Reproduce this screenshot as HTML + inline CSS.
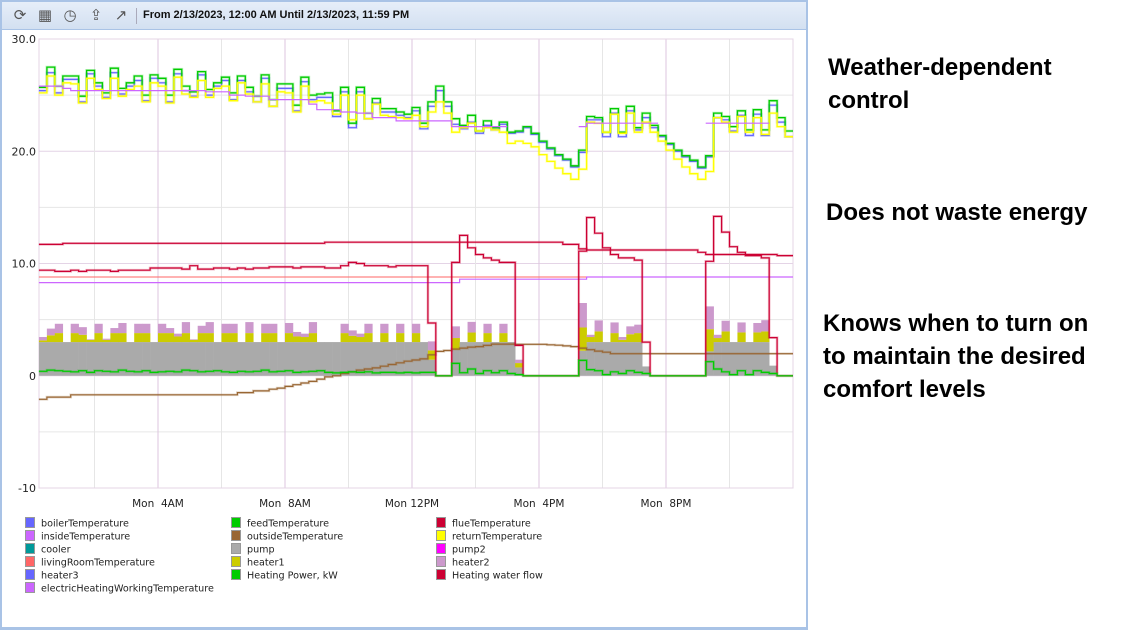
<!DOCTYPE html>
<html><head><meta charset="utf-8">
<style>
html,body{margin:0;padding:0;background:#fff;width:1126px;height:630px;overflow:hidden;font-family:"DejaVu Sans","Liberation Sans",sans-serif;}
#panel{position:absolute;left:0;top:0;width:804px;height:625px;border:2px solid #a9c3e6;border-bottom-width:3px;background:#fff;}
#toolbar{position:absolute;left:0;top:0;width:804px;height:27px;background:linear-gradient(#e6eef9,#d3e0f1);border-bottom:1px solid #a9c3e6;}
.tb{position:absolute;top:4px;width:18px;height:18px;color:#555;font-size:15px;line-height:18px;text-align:center;}
#range{position:absolute;left:141px;top:7px;font:bold 11px "Liberation Sans",sans-serif;color:#111;}
#sep{position:absolute;left:134px;top:6px;width:1px;height:16px;background:#aab;}
.note{position:absolute;font:bold 24px "Liberation Sans",sans-serif;color:#000;line-height:33px;}
</style></head><body>
<div id="panel">
 <div id="toolbar">
  <div class="tb" style="left:9px">⟳</div>
  <div class="tb" style="left:34px">▦</div>
  <div class="tb" style="left:59px">◷</div>
  <div class="tb" style="left:85px">⇪</div>
  <div class="tb" style="left:110px">↗</div>
  <div id="sep"></div>
  <div id="range">From 2/13/2023, 12:00 AM Until 2/13/2023, 11:59 PM</div>
 </div>
 <svg id="chart" width="806" height="600" style="position:absolute;left:-2px;top:-2px"></svg>
</div>
<div class="note" style="left:828px;top:51px">Weather-dependent<br>control</div>
<div class="note" style="left:826px;top:196px">Does not waste energy</div>
<div class="note" style="left:823px;top:307px">Knows when to turn on<br>to maintain the desired<br>comfort levels</div>
<script>
const tickHours=[4,8,12,16,20];
const tickLabels=["Mon  4AM","Mon  8AM","Mon 12PM","Mon  4PM","Mon  8PM"];
const yTicks=[30,20,10,0,-10];
const yTickLabels=["30.0","20.0","10.0","0","-10"];
const stepHours=0.25;
const startHour=0.25;
const feed=[25.7,27.5,25.8,26.7,26.7,24.9,27.2,26.1,25.2,27.4,
25.6,26.1,26.7,25.0,26.8,26.5,25.0,27.3,25.8,25.3,
27.1,25.5,26.1,26.6,25.2,26.7,25.7,24.9,26.8,24.6,
26.0,26.0,24.1,26.6,25.0,25.1,25.2,23.6,25.7,22.5,
25.7,23.4,24.7,23.8,23.8,23.5,23.3,23.9,22.5,24.4,
25.8,24.4,22.9,22.3,23.2,21.8,22.7,22.1,22.6,21.7,
21.8,22.2,21.6,20.9,20.3,19.7,19.3,18.7,20.1,23.1,
23.0,21.7,23.8,21.7,24.0,22.1,23.4,22.3,21.4,20.7,
20.1,19.6,19.2,18.6,19.6,23.4,23.1,22.2,23.6,21.9,
23.7,21.9,24.5,23.0,21.8];
const boiler=[25.4,27.0,25.2,26.4,26.4,24.4,26.9,25.8,24.8,27.0,
25.1,25.8,26.3,24.5,26.5,26.1,24.4,26.9,25.4,24.9,
26.8,25.0,25.8,26.3,24.6,26.3,25.3,24.4,26.5,24.0,
25.6,25.6,23.6,26.2,24.6,24.8,24.8,23.1,25.3,22.1,
25.3,22.9,24.3,23.5,23.5,23.2,23.0,23.6,22.0,24.0,
25.4,24.0,22.4,22.0,22.6,21.6,22.3,21.9,22.4,21.6,
21.7,22.1,21.5,20.8,20.2,19.6,19.2,18.6,19.9,22.8,
22.8,21.3,23.4,21.3,23.6,21.9,23.0,22.1,21.3,20.6,
20.0,19.5,19.1,18.5,19.5,23.0,22.8,21.8,23.2,21.4,
23.3,21.4,24.1,22.6,21.3];
const ret=[25.2,26.7,25.0,26.1,26.0,24.3,26.5,25.5,24.7,26.5,
24.9,25.5,25.8,24.4,26.1,25.8,24.3,26.6,25.1,24.8,
26.3,24.8,25.6,25.8,24.5,26.1,25.1,24.4,26.0,24.0,
25.3,25.2,23.5,25.8,24.4,24.5,24.3,23.3,25.0,22.8,
25.0,22.9,24.2,23.2,23.1,23.0,22.9,23.2,22.2,23.5,
24.4,23.4,21.7,22.1,22.5,21.8,22.1,21.9,21.7,20.7,
20.9,20.7,20.4,19.7,19.1,18.5,18.0,17.5,18.4,22.6,
22.5,21.7,23.3,21.6,23.4,21.7,22.6,21.7,20.9,20.1,
19.3,18.6,18.0,17.5,18.2,23.0,22.6,21.7,23.1,21.7,
23.0,21.5,23.4,22.2,21.3];
const inside=[25.8,25.8,25.8,25.6,25.4,25.4,25.4,25.4,25.4,25.4,
25.4,25.4,25.4,25.4,25.4,25.4,25.4,25.4,25.4,25.4,
25.4,25.3,25.3,25.3,25.0,25.0,24.9,24.9,24.9,24.6,
24.6,24.6,24.6,24.6,24.2,23.7,23.7,23.7,23.5,23.5,
23.4,23.4,23.0,23.0,23.0,22.7,22.7,22.7,22.7,22.7,
22.7,22.7,22.2,22.2,22.2,22.2,22.2,22.2,22.2,null,
null,null,null,null,null,null,null,null,22.2,22.5,
22.5,22.5,22.5,22.5,22.5,22.5,22.5,22.5,null,null,
null,null,null,null,22.5,22.5,22.5,22.5,22.5,22.5,
22.5,22.5,null,null,null];
const flow=[11.7,11.7,11.7,11.8,11.8,11.8,11.8,11.8,11.8,11.8,
11.8,11.8,11.8,11.8,11.8,11.8,11.8,11.8,11.8,11.8,
11.8,11.8,11.8,11.8,11.8,11.8,11.8,11.8,11.8,11.8,
11.8,11.8,11.8,11.8,11.8,11.8,11.9,11.9,11.9,11.9,
11.9,11.9,11.9,11.9,11.9,11.9,11.9,11.9,11.9,11.9,
11.9,11.9,11.9,11.9,11.9,11.9,11.9,11.9,11.9,11.9,
11.9,11.9,11.9,11.9,11.9,11.9,11.7,11.7,11.3,11.2,
11.2,11.2,11.2,11.2,11.2,11.2,11.2,11.2,11.2,11.2,
11.2,11.2,11.2,11.0,10.8,10.8,10.8,10.8,10.8,10.8,
10.8,10.8,10.8,10.7,10.7];
const flue=[9.4,9.4,9.3,9.3,9.4,9.3,9.4,9.4,9.4,9.3,
9.4,9.4,9.4,9.4,9.6,9.6,9.6,9.6,9.5,9.8,
9.5,9.5,9.6,9.6,9.5,9.6,9.5,9.6,9.6,9.7,
9.7,9.7,9.6,9.7,9.7,9.7,9.6,9.6,9.8,10.1,
10.0,9.8,9.8,9.8,9.7,9.8,9.8,9.8,9.8,4.7,
0,0,10.1,12.5,11.4,10.8,10.5,10.3,10.1,10.1,
2.7,0,0,0,0,0,0,0,11.1,14.1,
12.7,11.4,10.8,10.5,10.5,10.3,3.0,0,0,0,
0,0,0,0,10.2,14.2,12.8,11.5,11.0,10.7,
10.7,10.5,3.4,0,0];
const outside=[-2.1,-1.9,-1.9,-1.9,-1.7,-1.7,-1.7,-1.7,-1.7,-1.7,
-1.7,-1.7,-1.7,-1.7,-1.7,-1.7,-1.7,-1.7,-1.7,-1.7,
-1.7,-1.7,-1.7,-1.7,-1.7,-1.5,-1.5,-1.35,-1.35,-1.2,
-1.1,-0.95,-0.8,-0.65,-0.5,-0.3,-0.1,0.0,0.2,0.35,
0.5,0.6,0.7,0.85,1.0,1.15,1.3,1.4,1.5,1.87,
2.17,2.25,2.37,2.46,2.55,2.6,2.7,2.82,2.82,2.82,
2.8,2.8,2.8,2.8,2.76,2.72,2.66,2.6,2.46,2.32,
2.2,2.1,1.96,1.96,1.96,1.96,1.96,1.96,1.96,1.96,
1.96,1.96,1.96,1.96,1.96,1.96,1.96,1.96,1.96,1.96,
1.96,1.96,1.96,1.96,1.96];
const living=[8.8,8.8,8.8,8.8,8.8,8.8,8.8,8.8,8.8,8.8,
8.8,8.8,8.8,8.8,8.8,8.8,8.8,8.8,8.8,8.8,
8.8,8.8,8.8,8.8,8.8,8.8,8.8,8.8,8.8,8.8,
8.8,8.8,8.8,8.8,8.8,8.8,8.8,8.8,8.8,8.8,
8.8,8.8,8.8,8.8,8.8,8.8,8.8,8.8,8.8,8.8,
8.8,8.8,8.8,8.8,8.8,8.8,8.8,8.8,8.8,8.8,
8.8,8.8,8.8,8.8,8.8,8.8,8.8,8.8,8.8,8.8,
8.8,8.8,8.8,8.8,8.8,8.8,8.8,8.8,8.8,8.8,
8.8,8.8,8.8,8.8,8.8,8.8,8.8,8.8,8.8,8.8,
8.8,8.8,8.8,8.8,8.8];
const electric=[8.3,8.3,8.3,8.3,8.3,8.3,8.3,8.3,8.3,8.3,
8.3,8.3,8.3,8.3,8.3,8.3,8.3,8.3,8.3,8.3,
8.3,8.3,8.3,8.3,8.3,8.3,8.3,8.3,8.3,8.3,
8.3,8.3,8.3,8.3,8.3,8.3,8.3,8.3,8.3,8.3,
8.3,8.3,8.3,8.3,8.3,8.3,8.3,8.3,8.3,8.3,
8.3,8.3,8.3,8.6,8.6,8.6,8.6,8.6,8.6,8.6,
8.6,8.6,8.6,8.6,8.6,8.6,8.6,8.6,8.6,8.8,
8.8,8.8,8.8,8.8,8.8,8.8,8.8,8.8,8.8,8.8,
8.8,8.8,8.8,8.8,8.8,8.8,8.8,8.8,8.8,8.8,
8.8,8.8,8.8,8.8,8.8];
const pump=[3,3,3,3,3,3,3,3,3,3,
3,3,3,3,3,3,3,3,3,3,
3,3,3,3,3,3,3,3,3,3,
3,3,3,3,3,3,3,3,3,3,
3,3,3,3,3,3,3,3,3,1.43,
0,0,2.3,3,3,3,3,3,3,3,
0.74,0,0,0,0,0,0,0,2.23,3,
3,3,3,3,3,3,0.83,0,0,0,
0,0,0,0,2.17,3,3,3,3,3,
3,3,0.9,0,0];
const heater1=[.15,.6,.8,0,.8,.65,.2,.8,.2,.8,
.8,0,.8,.8,0,.8,.8,.5,.8,.2,
.8,.8,0,.8,.8,0,.8,0,.8,.8,
0,.8,.5,.45,.8,0,0,0,.8,.56,
.45,.8,0,.8,0,.8,0,.8,0,.83,
0,0,1.06,0,.85,0,.8,0,.8,0,
.39,0,0,0,0,0,0,0,2.07,.45,
.95,0,.8,.2,.7,.8,0,0,0,0,
0,0,0,0,1.98,.36,.95,0,.86,0,
.86,.95,0,0,0];
const heater2=[.3,.6,.83,0,.83,.68,.05,.83,.1,.45,
.9,0,.83,.83,0,.83,.45,.25,.98,.05,
.65,.98,0,.83,.83,0,.98,0,.83,.83,
0,.9,.4,.3,.98,0,0,0,.83,.48,
.3,.83,0,.83,0,.83,0,.83,0,.8,
0,0,1.04,0,.95,0,.83,0,.83,0,
.3,0,0,0,0,0,0,0,2.18,.2,
.98,0,.95,.25,.7,.75,0,0,0,0,
0,0,0,0,2.03,.29,.95,0,.89,0,
.84,1.0,0,0,0];
const power=[.4,.5,.45,.4,.35,.45,.3,.45,.4,.35,
.5,.4,.35,.45,.3,.35,.4,.35,.5,.45,
.35,.4,.45,.35,.3,.4,.35,.4,.5,.35,
.4,.45,.3,.35,.4,.45,.3,.25,.3,.35,
.3,.35,.25,.3,.3,.25,.3,.25,.3,.3,
0,0,1.1,.27,.6,.2,.45,.27,.45,.2,
.1,0,0,0,0,0,0,0,1.37,.55,
.45,.1,.35,.2,.45,.3,.2,0,0,0,
0,0,0,0,1.25,.6,.35,.1,.45,.1,
.45,.3,.2,0,0];
const legendNames=["boilerTemperature","feedTemperature","flueTemperature","insideTemperature","outsideTemperature","returnTemperature","cooler","pump","pump2","livingRoomTemperature","heater1","heater2","heater3","Heating Power, kW","Heating water flow","electricHeatingWorkingTemperature"];
const legendColors=["#6666ff","#00cc00","#cc0033","#cc66ff","#996633","#ffff00","#009999","#aaaaaa","#ff00ff","#ff6666","#cccc00","#cc99cc","#6666ff","#00cc00","#cc0033","#cc66ff"];

const NS="http://www.w3.org/2000/svg";
const svg=document.getElementById('chart');
const L=39,R=793,T=39,B=488,vMax=30,vMin=-10;
function xH(h){return 31+h*31.75;}
function xS(i){return xH(startHour+i*stepHours);}
function yV(v){return T+(vMax-v)*(B-T)/(vMax-vMin);}
function mk(tag,attrs,parent){const e=document.createElementNS(NS,tag);for(const k in attrs)e.setAttribute(k,attrs[k]);(parent||svg).appendChild(e);return e;}

for(let v=-10;v<=30;v+=5){
  const g=mk('line',{x1:L,x2:R,y1:yV(v),y2:yV(v),stroke:(v%10===0)?'#e4d4e6':'#e6e6e6','stroke-width':1});
  
  
}
for(let h=2;h<=24;h+=2){
  const lab=tickHours.indexOf(h)>=0;
  const g=mk('line',{x1:xH(h),x2:xH(h),y1:T,y2:B,stroke:lab?'#dcc6df':'#e6e6e6','stroke-width':1});
  
  
}
const fr=mk('rect',{x:L,y:T,width:R-L,height:B-T,fill:'none',stroke:'#e4d4e6'});



for(let i=0;i<pump.length;i++){
  const x0=xS(i),w=xS(i+1)-x0+0.3;
  const stack=[[pump[i],'#aaaaaa','bar-pump'],[heater1[i],'#cccc00','bar-heater1'],[heater2[i],'#cc99cc','bar-heater2']];
  let base=0;
  for(const [v,c,n] of stack){
    if(v>0){
      const r=mk('rect',{x:x0,y:yV(base+v),width:w,height:yV(base)-yV(base+v),fill:c});
      
      
    }
    base+=v;
  }
}

function stepPath(arr){
  let d='',pen=false;
  for(let i=0;i<arr.length;i++){
    const v=arr[i];
    if(v===null){pen=false;continue;}
    const y=yV(v).toFixed(1);
    if(!pen){d+='M'+xS(i).toFixed(1)+' '+y;pen=true;}
    else d+='V'+y;
    d+='H'+xS(i+1).toFixed(1);
  }
  return d;
}
function series(arr,color,name,w,halo){
  const d=stepPath(arr);
  if(halo){
    const h=mk('path',{d:d,fill:'none',stroke:color,'stroke-width':w+1.5,'stroke-opacity':0.25});
    
    
  }
  const p=mk('path',{d:d,fill:'none',stroke:color,'stroke-width':w});
  
  
}
series(outside,'#996633','outside-temperature-line',1.2,true);
series(living,'#ff6666','living-room-temperature-line',1.1,false);
series(electric,'#cc66ff','electric-heating-temperature-line',1.2,false);
series(flow,'#cc0033','heating-water-flow-line',1.2,true);
series(flue,'#cc0033','flue-temperature-line',1.2,true);
series(power,'#00cc00','heating-power-line',1.2,true);
series(boiler,'#6666ff','boiler-temperature-line',1.2,true);
series(feed,'#00cc00','feed-temperature-line',1.3,true);
series(ret,'#ffff00','return-temperature-line',1.3,true);
series(inside,'#cc66ff','inside-temperature-line',1.2,false);

yTicks.forEach((v,k)=>{
  const t=mk('text',{x:36,y:yV(v)+4,'text-anchor':'end','font-size':'11','font-family':'DejaVu Sans, Liberation Sans, sans-serif',fill:'#222'});
  t.textContent=yTickLabels[k];
  
  
});
tickHours.forEach((h,k)=>{
  const t=mk('text',{x:xH(h),y:507,'text-anchor':'middle','font-size':'10.5','font-family':'DejaVu Sans, Liberation Sans, sans-serif',fill:'#222'});
  t.style.whiteSpace='pre';
  t.textContent=tickLabels[k];
  
  
});
const colX=[25,231,436];
legendNames.forEach((n,k)=>{
  const col=k<15?k%3:0, row=k<15?Math.floor(k/3):5;
  const y=517+row*13;
  const g=mk('g',{});
  
  
  mk('rect',{x:colX[col]+0.5,y:y+0.5,width:9,height:10,fill:legendColors[k],stroke:'#999'},g);
  const t=mk('text',{x:colX[col]+16,y:y+9.5,'font-size':'9.6','font-family':'DejaVu Sans, Liberation Sans, sans-serif',fill:'#222'},g);
  t.textContent=n;
});
</script>
</body></html>
